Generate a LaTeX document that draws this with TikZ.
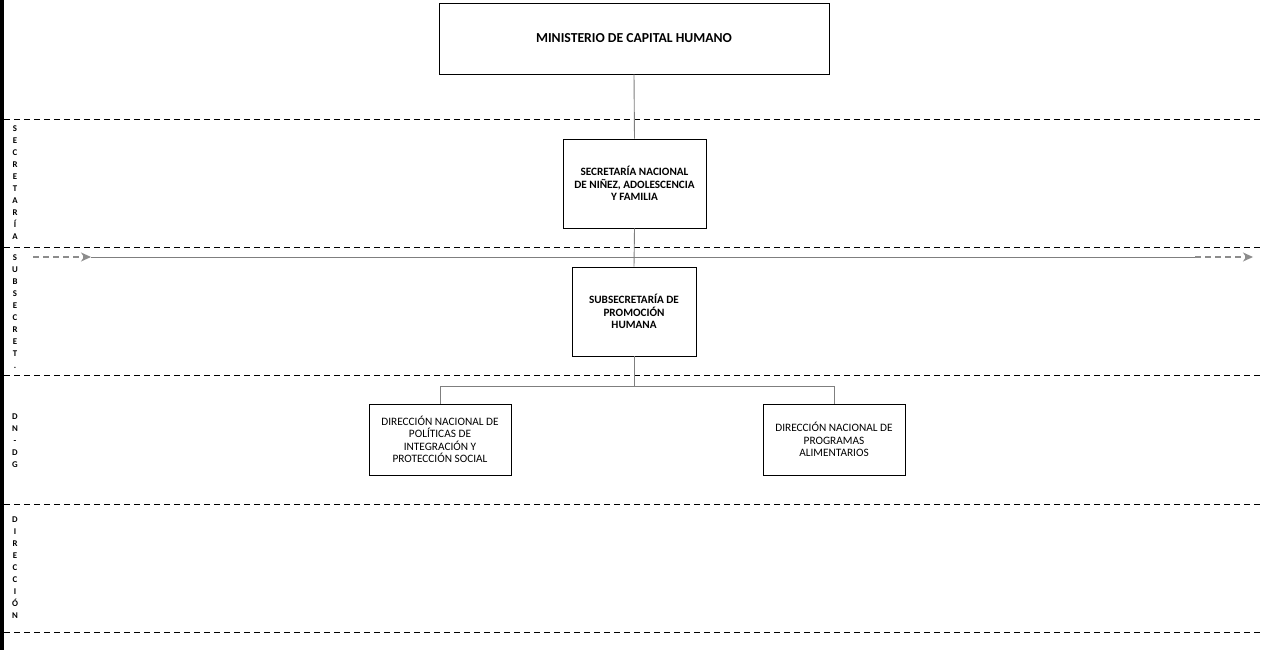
\documentclass[tikz,border=0pt]{standalone}
\usepackage{fontspec}
\setmainfont{Carlito}
\usetikzlibrary{arrows.meta}
\definecolor{conngray}{HTML}{7F7F7F}
\definecolor{arrowgray}{HTML}{8C8C8C}
\begin{document}
\begin{tikzpicture}[x=1pt,y=-1pt,
  box/.style={draw=black, line width=0.9pt, fill=white, align=center, inner sep=0pt},
  boldtxt/.style={font=\fontsize{11.2}{12.5}\selectfont\bfseries},
  regtxt/.style={font=\fontsize{11.3}{12.5}\selectfont},
  conn/.style={draw=conngray, line width=0.9pt},
  sep/.style={draw=black, line width=0.8pt, dash pattern=on 6pt off 4pt},
  band/.style={font=\fontsize{8.8}{12}\selectfont\bfseries, align=center, inner sep=0pt},
  flowarrow/.style={draw=arrowgray, line width=1.3pt, dash pattern=on 6pt off 4pt, -{Stealth[length=10pt,width=9pt,inset=3pt]}}
]
\useasboundingbox (0,0) rectangle (1264,650);
\fill[white] (0,0) rectangle (1264,650);
\fill[black] (0,0) rectangle (3.5,650);

% separators
\foreach \yy in {119,247,375,504,632}
  \draw[sep] (4,\yy) -- (1262,\yy);

% band labels
\node[band] (bsec) at (15,183) {S\\E\\C\\R\\E\\T\\A\\R\\Í\\A};
\node[band] (bsub) at (15,312) {S\\U\\B\\S\\E\\C\\R\\E\\T\\.};
\node[band] (bdn) at (15,441) {D\\N\\-\\D\\G};
\node[band] (bdir) at (15,568) {D\\I\\R\\E\\C\\C\\I\\Ó\\N};

% horizontal flow arrow
\coordinate (a0) at (33,257);
\coordinate (a1) at (91,257);
\coordinate (a2) at (1195,257);
\coordinate (a3) at (1253,257);
\draw[conn] (a1) -- (a2);
\draw[flowarrow] (a0) -- (a1);
\draw[flowarrow] (a2) -- (a3);

% boxes
\node[box, minimum width=390pt, minimum height=71pt, font=\fontsize{13.7}{15}\selectfont\bfseries] (min) at (634,38.5) {MINISTERIO DE CAPITAL HUMANO};
\node[box, boldtxt, minimum width=143pt, minimum height=89pt] (sec) at (634.5,183.5) {SECRETARÍA NACIONAL\\DE NIÑEZ, ADOLESCENCIA\\Y FAMILIA};
\node[box, boldtxt, minimum width=124pt, minimum height=89pt] (sub) at (634,311.5) {SUBSECRETARÍA DE\\PROMOCIÓN\\HUMANA};
\node[box, regtxt, minimum width=142pt, minimum height=71pt] (dn1) at (440,439.5) {DIRECCIÓN NACIONAL DE\\POLÍTICAS DE\\INTEGRACIÓN Y\\PROTECCIÓN SOCIAL};
\node[box, regtxt, minimum width=142pt, minimum height=71pt] (dn2) at (834,439.5) {DIRECCIÓN NACIONAL DE\\PROGRAMAS\\ALIMENTARIOS};

% connectors
\draw[conn] (min.south) -- (sec.north);
\draw[conn] (sec.south) -- (sub.north);
\draw[conn] (sub.south) -- ++(0,30) coordinate (j);
\draw[conn] (j) -| (dn1.north);
\draw[conn] (j) -| (dn2.north);
\end{tikzpicture}
\end{document}
